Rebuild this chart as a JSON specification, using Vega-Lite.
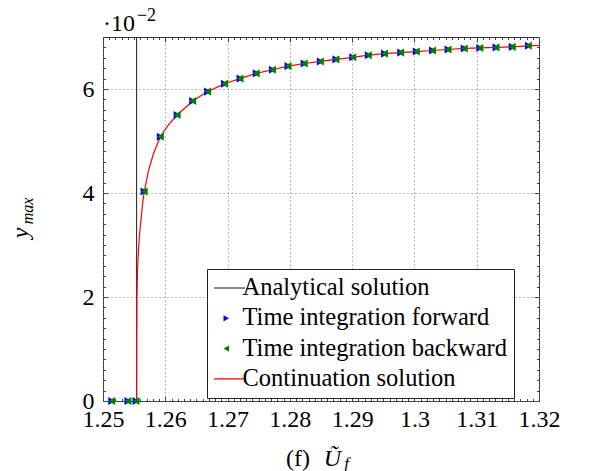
{
  "$schema": "https://vega.github.io/schema/vega-lite/v6.json",
  "width": 436,
  "height": 364,
  "autosize": {"type": "none"},
  "padding": {"left": 103, "top": 37, "right": 50, "bottom": 70},
  "background": "white",
  "config": {
    "font": "Liberation Serif",
    "view": {"stroke": "#333", "strokeWidth": 1},
    "axis": {
      "domain": false,
      "labelColor": "black",
      "titleColor": "black",
      "labelFont": "Liberation Serif",
      "titleFont": "Liberation Serif",
      "titleFontWeight": "normal",
      "labelFlush": false,
      "labelOverlap": false,
      "labelBound": false,
      "tickColor": "#444",
      "tickWidth": 1,
      "gridColor": "#777",
      "gridDash": [1, 3],
      "gridWidth": 1
    },
    "legend": {"labelFont": "Liberation Serif"}
  },
  "datasets": {
    "analytical": [{"U": 1.2554, "series": "Analytical solution"}],
    "continuation": [
      {"U": 1.2554, "ymax": 0, "series": "Continuation solution"},
      {"U": 1.25541, "ymax": 1.0, "series": "Continuation solution"},
      {"U": 1.25545, "ymax": 2.0, "series": "Continuation solution"},
      {"U": 1.25555, "ymax": 2.52, "series": "Continuation solution"},
      {"U": 1.25567, "ymax": 2.84, "series": "Continuation solution"},
      {"U": 1.25583, "ymax": 3.16, "series": "Continuation solution"},
      {"U": 1.2561, "ymax": 3.48, "series": "Continuation solution"},
      {"U": 1.25636, "ymax": 3.8, "series": "Continuation solution"},
      {"U": 1.25663, "ymax": 4.03, "series": "Continuation solution"},
      {"U": 1.25732, "ymax": 4.44, "series": "Continuation solution"},
      {"U": 1.25812, "ymax": 4.76, "series": "Continuation solution"},
      {"U": 1.2592, "ymax": 5.08, "series": "Continuation solution"},
      {"U": 1.2605, "ymax": 5.31, "series": "Continuation solution"},
      {"U": 1.2619, "ymax": 5.5, "series": "Continuation solution"},
      {"U": 1.2644, "ymax": 5.77, "series": "Continuation solution"},
      {"U": 1.2668, "ymax": 5.95, "series": "Continuation solution"},
      {"U": 1.2695, "ymax": 6.1, "series": "Continuation solution"},
      {"U": 1.272, "ymax": 6.2, "series": "Continuation solution"},
      {"U": 1.2746, "ymax": 6.3, "series": "Continuation solution"},
      {"U": 1.2772, "ymax": 6.37, "series": "Continuation solution"},
      {"U": 1.2797, "ymax": 6.44, "series": "Continuation solution"},
      {"U": 1.2823, "ymax": 6.49, "series": "Continuation solution"},
      {"U": 1.2849, "ymax": 6.53, "series": "Continuation solution"},
      {"U": 1.2874, "ymax": 6.57, "series": "Continuation solution"},
      {"U": 1.2901, "ymax": 6.61, "series": "Continuation solution"},
      {"U": 1.2926, "ymax": 6.65, "series": "Continuation solution"},
      {"U": 1.2952, "ymax": 6.68, "series": "Continuation solution"},
      {"U": 1.2978, "ymax": 6.7, "series": "Continuation solution"},
      {"U": 1.3003, "ymax": 6.72, "series": "Continuation solution"},
      {"U": 1.3029, "ymax": 6.74, "series": "Continuation solution"},
      {"U": 1.3054, "ymax": 6.76, "series": "Continuation solution"},
      {"U": 1.308, "ymax": 6.78, "series": "Continuation solution"},
      {"U": 1.3105, "ymax": 6.79, "series": "Continuation solution"},
      {"U": 1.3131, "ymax": 6.8, "series": "Continuation solution"},
      {"U": 1.3157, "ymax": 6.81, "series": "Continuation solution"},
      {"U": 1.3183, "ymax": 6.83, "series": "Continuation solution"},
      {"U": 1.32, "ymax": 6.84, "series": "Continuation solution"}
    ],
    "forward": [
      {"U": 1.2514, "ymax": 0, "series": "Time integration forward"},
      {"U": 1.254, "ymax": 0, "series": "Time integration forward"},
      {"U": 1.2553, "ymax": 0, "series": "Time integration forward"},
      {"U": 1.2566, "ymax": 4.03, "series": "Time integration forward"},
      {"U": 1.2592, "ymax": 5.08, "series": "Time integration forward"},
      {"U": 1.2619, "ymax": 5.5, "series": "Time integration forward"},
      {"U": 1.2644, "ymax": 5.77, "series": "Time integration forward"},
      {"U": 1.2668, "ymax": 5.95, "series": "Time integration forward"},
      {"U": 1.2695, "ymax": 6.1, "series": "Time integration forward"},
      {"U": 1.272, "ymax": 6.2, "series": "Time integration forward"},
      {"U": 1.2746, "ymax": 6.3, "series": "Time integration forward"},
      {"U": 1.2772, "ymax": 6.37, "series": "Time integration forward"},
      {"U": 1.2797, "ymax": 6.44, "series": "Time integration forward"},
      {"U": 1.2823, "ymax": 6.49, "series": "Time integration forward"},
      {"U": 1.2849, "ymax": 6.53, "series": "Time integration forward"},
      {"U": 1.2874, "ymax": 6.57, "series": "Time integration forward"},
      {"U": 1.2901, "ymax": 6.61, "series": "Time integration forward"},
      {"U": 1.2926, "ymax": 6.65, "series": "Time integration forward"},
      {"U": 1.2952, "ymax": 6.68, "series": "Time integration forward"},
      {"U": 1.2978, "ymax": 6.7, "series": "Time integration forward"},
      {"U": 1.3003, "ymax": 6.72, "series": "Time integration forward"},
      {"U": 1.3029, "ymax": 6.74, "series": "Time integration forward"},
      {"U": 1.3054, "ymax": 6.76, "series": "Time integration forward"},
      {"U": 1.308, "ymax": 6.78, "series": "Time integration forward"},
      {"U": 1.3105, "ymax": 6.79, "series": "Time integration forward"},
      {"U": 1.3131, "ymax": 6.8, "series": "Time integration forward"},
      {"U": 1.3157, "ymax": 6.81, "series": "Time integration forward"},
      {"U": 1.3183, "ymax": 6.83, "series": "Time integration forward"}
    ],
    "backward": [
      {"U": 1.2514, "ymax": 0, "series": "Time integration backward"},
      {"U": 1.254, "ymax": 0, "series": "Time integration backward"},
      {"U": 1.2553, "ymax": 0, "series": "Time integration backward"},
      {"U": 1.2566, "ymax": 4.03, "series": "Time integration backward"},
      {"U": 1.2592, "ymax": 5.08, "series": "Time integration backward"},
      {"U": 1.2619, "ymax": 5.5, "series": "Time integration backward"},
      {"U": 1.2644, "ymax": 5.77, "series": "Time integration backward"},
      {"U": 1.2668, "ymax": 5.95, "series": "Time integration backward"},
      {"U": 1.2695, "ymax": 6.1, "series": "Time integration backward"},
      {"U": 1.272, "ymax": 6.2, "series": "Time integration backward"},
      {"U": 1.2746, "ymax": 6.3, "series": "Time integration backward"},
      {"U": 1.2772, "ymax": 6.37, "series": "Time integration backward"},
      {"U": 1.2797, "ymax": 6.44, "series": "Time integration backward"},
      {"U": 1.2823, "ymax": 6.49, "series": "Time integration backward"},
      {"U": 1.2849, "ymax": 6.53, "series": "Time integration backward"},
      {"U": 1.2874, "ymax": 6.57, "series": "Time integration backward"},
      {"U": 1.2901, "ymax": 6.61, "series": "Time integration backward"},
      {"U": 1.2926, "ymax": 6.65, "series": "Time integration backward"},
      {"U": 1.2952, "ymax": 6.68, "series": "Time integration backward"},
      {"U": 1.2978, "ymax": 6.7, "series": "Time integration backward"},
      {"U": 1.3003, "ymax": 6.72, "series": "Time integration backward"},
      {"U": 1.3029, "ymax": 6.74, "series": "Time integration backward"},
      {"U": 1.3054, "ymax": 6.76, "series": "Time integration backward"},
      {"U": 1.308, "ymax": 6.78, "series": "Time integration backward"},
      {"U": 1.3105, "ymax": 6.79, "series": "Time integration backward"},
      {"U": 1.3131, "ymax": 6.8, "series": "Time integration backward"},
      {"U": 1.3157, "ymax": 6.81, "series": "Time integration backward"},
      {"U": 1.3183, "ymax": 6.83, "series": "Time integration backward"}
    ]
  },
  "resolve": {"axis": {"x": "independent", "y": "independent"}},
  "layer": [
    {
      "data": {"name": "analytical"},
      "mark": {"type": "rule", "strokeWidth": 1},
      "encoding": {
        "x": {
          "field": "U", "type": "quantitative",
          "scale": {"domain": [1.25, 1.32], "nice": false, "zero": false},
          "axis": {
            "orient": "bottom",
            "values": [1.25, 1.26, 1.27, 1.28, 1.29, 1.3, 1.31, 1.32],
            "format": ".3~g",
            "labelFontSize": 24,
            "labelPadding": 6,
            "ticks": false,
            "grid": true,
            "title": "(f)",
            "titleFontSize": 24,
            "titleX": 194.5,
            "titleY": 64,
            "titleBaseline": "alphabetic",
            "titleAlign": "center"
          }
        },
        "color": {
          "field": "series", "type": "nominal",
          "scale": {
            "domain": ["Analytical solution", "Time integration forward", "Time integration backward", "Continuation solution"],
            "range": ["#1a1a1a", "#0000ff", "#008000", "#ff0000"]
          },
          "legend": {
            "orient": "none",
            "legendX": 104,
            "legendY": 232,
            "title": null,
            "padding": 7,
            "rowPadding": 5.3,
            "clipHeight": 24,
            "symbolSize": 1444,
            "labelOffset": 4,
            "labelFontSize": 24.5,
            "labelFont": "Liberation Serif",
            "labelLimit": 400,
            "labelColor": "black",
            "strokeColor": "#222",
            "fillColor": "white",
            "encode": {
              "symbols": {
                "update": {
                  "shape": {"signal": "datum.value == 'Time integration forward' ? 'triangle-right' : datum.value == 'Time integration backward' ? 'triangle-left' : 'stroke'"},
                  "size": {"signal": "(datum.value == 'Time integration forward' || datum.value == 'Time integration backward') ? 40 : 1444"},
                  "strokeWidth": {"signal": "(datum.value == 'Time integration forward' || datum.value == 'Time integration backward') ? 0 : 1.2"},
                  "stroke": {"scale": "color", "field": "value"},
                  "fill": {"scale": "color", "field": "value"},
                  "opacity": {"value": 1}
                }
              }
            }
          }
        }
      }
    },
    {
      "data": {"name": "continuation"},
      "mark": {"type": "line", "strokeWidth": 1.2},
      "encoding": {
        "x": {
          "field": "U", "type": "quantitative",
          "scale": {"domain": [1.25, 1.32], "nice": false, "zero": false},
          "axis": {
            "orient": "bottom",
            "values": [1.25, 1.26, 1.27, 1.28, 1.29, 1.3, 1.31, 1.32],
            "labels": false,
            "grid": false,
            "tickSize": -5,
            "title": "Ũ",
            "titleFontStyle": "italic",
            "titleFontSize": 24,
            "titleX": 229,
            "titleY": 64,
            "titleBaseline": "alphabetic",
            "titleAlign": "center"
          }
        },
        "y": {
          "field": "ymax", "type": "quantitative",
          "scale": {"domain": [0, 7], "nice": false, "zero": true},
          "axis": {
            "orient": "left",
            "values": [0, 2, 4, 6],
            "labelFontSize": 24,
            "labelPadding": 9,
            "ticks": false,
            "grid": true,
            "title": "y",
            "titleFontStyle": "italic",
            "titleFontSize": 24,
            "titleAngle": 270,
            "titleX": -76,
            "titleY": 195.5,
            "titleBaseline": "alphabetic",
            "titleAlign": "center"
          }
        },
        "color": {
          "field": "series", "type": "nominal",
          "scale": {
            "domain": ["Analytical solution", "Time integration forward", "Time integration backward", "Continuation solution"],
            "range": ["#1a1a1a", "#0000ff", "#008000", "#ff0000"]
          }
        }
      }
    },
    {
      "data": {"name": "forward"},
      "mark": {"type": "point", "shape": "triangle-right", "filled": true, "size": 65, "opacity": 1},
      "encoding": {
        "x": {
          "field": "U", "type": "quantitative",
          "scale": {"domain": [1.25, 1.32], "nice": false, "zero": false},
          "axis": {
            "orient": "bottom",
            "values": [1.251, 1.252, 1.253, 1.254, 1.255, 1.256, 1.257, 1.258, 1.259, 1.261, 1.262, 1.263, 1.264, 1.265, 1.266, 1.267, 1.268, 1.269, 1.271, 1.272, 1.273, 1.274, 1.275, 1.276, 1.277, 1.278, 1.279, 1.281, 1.282, 1.283, 1.284, 1.285, 1.286, 1.287, 1.288, 1.289, 1.291, 1.292, 1.293, 1.294, 1.295, 1.296, 1.297, 1.298, 1.299, 1.301, 1.302, 1.303, 1.304, 1.305, 1.306, 1.307, 1.308, 1.309, 1.311, 1.312, 1.313, 1.314, 1.315, 1.316, 1.317, 1.318, 1.319],
            "labels": false,
            "grid": false,
            "tickSize": -2.5,
            "title": "f",
            "titleFontStyle": "italic",
            "titleFontSize": 17,
            "titleX": 243,
            "titleY": 67,
            "titleBaseline": "alphabetic",
            "titleAlign": "center"
          }
        },
        "y": {
          "field": "ymax", "type": "quantitative",
          "scale": {"domain": [0, 7], "nice": false, "zero": true},
          "axis": {
            "orient": "left",
            "values": [0, 2, 4, 6],
            "labels": false,
            "grid": false,
            "tickSize": -5,
            "title": "max",
            "titleFontStyle": "italic",
            "titleFontSize": 16,
            "titleAngle": 270,
            "titleX": -71,
            "titleY": 173.5,
            "titleBaseline": "alphabetic",
            "titleAlign": "center"
          }
        },
        "color": {
          "field": "series", "type": "nominal",
          "scale": {
            "domain": ["Analytical solution", "Time integration forward", "Time integration backward", "Continuation solution"],
            "range": ["#1a1a1a", "#0000ff", "#008000", "#ff0000"]
          }
        }
      }
    },
    {
      "data": {"name": "backward"},
      "mark": {"type": "point", "shape": "triangle-left", "filled": true, "size": 65, "opacity": 1},
      "encoding": {
        "x": {
          "field": "U", "type": "quantitative",
          "scale": {"domain": [1.25, 1.32], "nice": false, "zero": false},
          "axis": {
            "orient": "top",
            "values": [1.25, 1.26, 1.27, 1.28, 1.29, 1.3, 1.31, 1.32],
            "labels": false,
            "grid": false,
            "tickSize": -5,
            "title": "·10",
            "titleFontSize": 24,
            "titleX": 15.5,
            "titleY": -7,
            "titleBaseline": "alphabetic",
            "titleAlign": "center"
          }
        },
        "y": {
          "field": "ymax", "type": "quantitative",
          "scale": {"domain": [0, 7], "nice": false, "zero": true},
          "axis": {
            "orient": "left",
            "values": [0.2, 0.4, 0.6, 0.8, 1, 1.2, 1.4, 1.6, 1.8, 2.2, 2.4, 2.6, 2.8, 3, 3.2, 3.4, 3.6, 3.8, 4.2, 4.4, 4.6, 4.8, 5, 5.2, 5.4, 5.6, 5.8, 6.2, 6.4, 6.6, 6.8],
            "labels": false,
            "grid": false,
            "tickSize": -2.5,
            "title": null
          }
        },
        "color": {
          "field": "series", "type": "nominal",
          "scale": {
            "domain": ["Analytical solution", "Time integration forward", "Time integration backward", "Continuation solution"],
            "range": ["#1a1a1a", "#0000ff", "#008000", "#ff0000"]
          }
        }
      }
    },
    {
      "data": {"name": "forward"},
      "mark": {"type": "point", "opacity": 0},
      "encoding": {
        "x": {
          "field": "U", "type": "quantitative",
          "scale": {"domain": [1.25, 1.32], "nice": false, "zero": false},
          "axis": {
            "orient": "top",
            "values": [1.251, 1.252, 1.253, 1.254, 1.255, 1.256, 1.257, 1.258, 1.259, 1.261, 1.262, 1.263, 1.264, 1.265, 1.266, 1.267, 1.268, 1.269, 1.271, 1.272, 1.273, 1.274, 1.275, 1.276, 1.277, 1.278, 1.279, 1.281, 1.282, 1.283, 1.284, 1.285, 1.286, 1.287, 1.288, 1.289, 1.291, 1.292, 1.293, 1.294, 1.295, 1.296, 1.297, 1.298, 1.299, 1.301, 1.302, 1.303, 1.304, 1.305, 1.306, 1.307, 1.308, 1.309, 1.311, 1.312, 1.313, 1.314, 1.315, 1.316, 1.317, 1.318, 1.319],
            "labels": false,
            "grid": false,
            "tickSize": -2.5,
            "title": "−2",
            "titleFontSize": 18,
            "titleX": 43,
            "titleY": -17,
            "titleBaseline": "alphabetic",
            "titleAlign": "center"
          }
        },
        "y": {
          "field": "ymax", "type": "quantitative",
          "scale": {"domain": [0, 7], "nice": false, "zero": true},
          "axis": {
            "orient": "right",
            "values": [0, 2, 4, 6],
            "labels": false,
            "grid": false,
            "tickSize": -5,
            "title": null
          }
        }
      }
    },
    {
      "data": {"name": "backward"},
      "mark": {"type": "point", "opacity": 0},
      "encoding": {
        "x": {
          "field": "U", "type": "quantitative",
          "scale": {"domain": [1.25, 1.32], "nice": false, "zero": false},
          "axis": null
        },
        "y": {
          "field": "ymax", "type": "quantitative",
          "scale": {"domain": [0, 7], "nice": false, "zero": true},
          "axis": {
            "orient": "right",
            "values": [0.2, 0.4, 0.6, 0.8, 1, 1.2, 1.4, 1.6, 1.8, 2.2, 2.4, 2.6, 2.8, 3, 3.2, 3.4, 3.6, 3.8, 4.2, 4.4, 4.6, 4.8, 5, 5.2, 5.4, 5.6, 5.8, 6.2, 6.4, 6.6, 6.8],
            "labels": false,
            "grid": false,
            "tickSize": -2.5,
            "title": null
          }
        }
      }
    }
  ]
}
